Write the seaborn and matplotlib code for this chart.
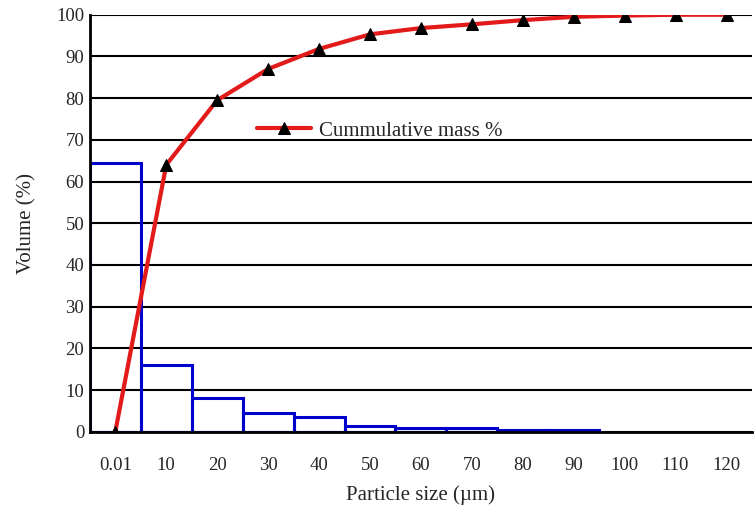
import numpy as np
import pandas as pd
import matplotlib
matplotlib.use('Agg')
import matplotlib.pyplot as plt
import seaborn as sns

# data
sizes = ["0.01", "10", "20", "30", "40", "50", "60", "70", "80", "90", "100", "110", "120"]
volume = [64.5, 16, 8, 4.5, 3.5, 1.5, 1.0, 1.0, 0.5, 0.5]          # histogram, up to 90 µm
cumulative = [0, 64, 79.5, 87, 91.8, 95.3, 96.8, 97.7, 98.7, 99.5, 99.8, 100, 100]

sns.set_style("white")
plt.rcParams['font.family'] = ['Liberation Serif', 'DejaVu Serif']

fig = plt.figure(figsize=(7.55, 5.08), dpi=100)
ax = fig.add_axes([0.119, 0.150, 0.877, 0.821])

pos = np.arange(len(sizes))

# histogram as blue outlined bars
hist_df = pd.DataFrame({"size": sizes[:len(volume)], "vol": volume})
sns.barplot(data=hist_df, x="size", y="vol", order=sizes, fill=False,
            color="#0000CC", linewidth=2.2, width=1.0, errorbar=None, ax=ax)
for p in ax.patches:
    p.set_edgecolor("#0000CC")

# cumulative curve
cum_df = pd.DataFrame({"pos": pos, "cum": cumulative})
sns.lineplot(data=cum_df, x="pos", y="cum", color="#E31A1A", linewidth=3,
             ax=ax, label="Cummulative mass %", marker="^", markersize=9,
             markerfacecolor="black", markeredgecolor="black")

ax.set_xlim(-0.5, len(sizes) - 0.5)
ax.set_ylim(0, 100)
ax.set_yticks(np.arange(0, 101, 10))
ax.set_xticks(pos)
ax.set_xticklabels(sizes)
ax.set_xticks(np.arange(-0.5, len(sizes), 1), minor=True)
ax.tick_params(axis='x', which='major', length=0, pad=18, labelsize=13.5)
ax.tick_params(axis='x', which='minor', length=7, width=2, color='black', direction='out')
ax.tick_params(axis='y', length=3, width=1.5, color='black', direction='out',
               labelsize=13.5, pad=1)

ax.yaxis.grid(True, color='black', linewidth=1.5)
ax.set_axisbelow(True)
for s in ['top', 'right']:
    ax.spines[s].set_visible(False)
for s in ['left', 'bottom']:
    ax.spines[s].set_color('black')
    ax.spines[s].set_linewidth(2)

ax.set_xlabel("Particle size (\u00b5m)", fontsize=15, labelpad=8)
ax.set_ylabel("Volume (%)", fontsize=15, labelpad=14)

leg = ax.legend(loc='upper left', bbox_to_anchor=(0.224, 0.79), frameon=False,
                fontsize=15, handlelength=2.6, handletextpad=0.4)

fig.savefig("out.png", dpi=100)
plt.close(fig)
